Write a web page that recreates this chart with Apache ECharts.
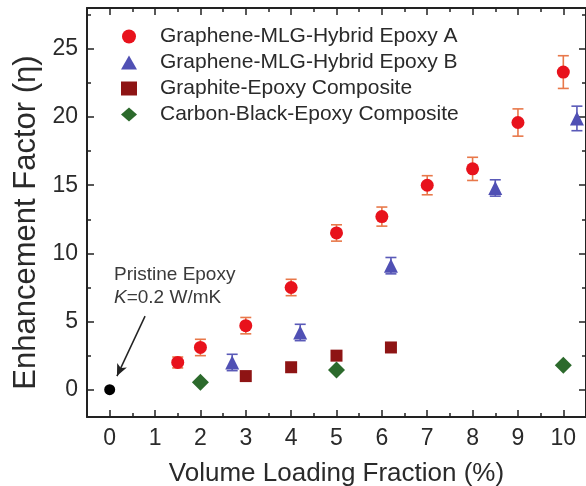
<!DOCTYPE html>
<html><head><meta charset="utf-8">
<script src="https://cdn.jsdelivr.net/npm/echarts@6/dist/echarts.min.js"></script>
<style>html,body{margin:0;padding:0;background:#fff}#c{width:586px;height:486px}</style>
</head><body><div id="c"></div>
<script>
// ---- data ----
const hybridA_x = [1.5, 2, 3, 4, 5, 6, 7, 8, 9, 10];
const hybridA_y = [2.0, 3.1, 4.7, 7.5, 11.5, 12.7, 15.0, 16.2, 19.6, 23.3];
const hybridA_err = [0.4, 0.6, 0.6, 0.6, 0.6, 0.7, 0.7, 0.85, 1.0, 1.2];
const hybridB_x = [2.7, 4.2, 6.2, 8.5, 10.3];
const hybridB_y = [2.0, 4.2, 9.1, 14.8, 19.9];
const hybridB_err = [0.6, 0.6, 0.6, 0.6, 0.9];
const graphite_x = [3, 4, 5, 6.2];
const graphite_y = [1.0, 1.65, 2.5, 3.1];
const carbon_x = [2, 5, 10];
const carbon_y = [0.55, 1.45, 1.8];
const pristine_x = [0];
const pristine_y = [0];
const xMajor = [0,1,2,3,4,5,6,7,8,9,10];
const xMinor = [0.5,1.5,2.5,3.5,4.5,5.5,6.5,7.5,8.5,9.5];
const yMajor = [0,5,10,15,20,25];
const yMinor = [2.5,7.5,12.5,17.5,22.5,27.5];
const names = ['Graphene-MLG-Hybrid Epoxy A','Graphene-MLG-Hybrid Epoxy B','Graphite-Epoxy Composite','Carbon-Black-Epoxy Composite'];

const zip = (xs, ys) => xs.map((x, i) => [x, ys[i]]);
const zipErr = (xs, ys, es) => xs.map((x, i) => [x, ys[i] - es[i], ys[i] + es[i]]);

const axisCol = '#222';
const txtCol = '#2a2a2a';
const font = 'Liberation Sans, Arial, sans-serif';

function xAx(pos, major, line, labels) {
  return {
    type: 'value', position: pos, min: -0.5, max: 10.5,
    axisLine: { show: line, onZero: false, lineStyle: { color: axisCol, width: 2 } },
    axisTick: { show: true, inside: true, length: major ? 7 : 4, customValues: major ? xMajor : xMinor, lineStyle: { color: axisCol, width: 1.5 } },
    axisLabel: { show: labels, customValues: xMajor, fontSize: 23, color: txtCol, fontFamily: font, margin: 10 },
    splitLine: { show: false },
    name: labels ? 'Volume Loading Fraction (%)' : '',
    nameLocation: 'middle', nameGap: 44,
    nameTextStyle: { fontSize: 26, color: txtCol, fontFamily: font }
  };
}
function yAx(pos, major, line, labels) {
  return {
    type: 'value', position: pos, min: -2, max: 28,
    axisLine: { show: line, onZero: false, lineStyle: { color: axisCol, width: 2 } },
    axisTick: { show: true, inside: true, length: major ? 7 : 4, customValues: major ? yMajor : yMinor, lineStyle: { color: axisCol, width: 1.5 } },
    axisLabel: { show: labels, customValues: yMajor, fontSize: 23, color: txtCol, fontFamily: font, margin: 9 },
    splitLine: { show: false },
    name: labels ? 'Enhancement Factor (\u03b7)' : '',
    nameLocation: 'middle', nameGap: 44,
    nameTextStyle: { fontSize: 31, color: txtCol, fontFamily: font, padding: [0, 20, 0, 0] }
  };
}

function errSeries(data, color) {
  return {
    type: 'custom', xAxisIndex: 0, yAxisIndex: 0, z: 2, silent: true,
    data: data,
    renderItem: function (params, api) {
      const x = api.value(0);
      const lo = api.coord([x, api.value(1)]);
      const hi = api.coord([x, api.value(2)]);
      const hw = 5.5;
      const st = { stroke: color, lineWidth: 1.6 };
      return { type: 'group', children: [
        { type: 'line', shape: { x1: lo[0], y1: lo[1], x2: hi[0], y2: hi[1] }, style: st },
        { type: 'line', shape: { x1: lo[0]-hw, y1: lo[1], x2: lo[0]+hw, y2: lo[1] }, style: st },
        { type: 'line', shape: { x1: hi[0]-hw, y1: hi[1], x2: hi[0]+hw, y2: hi[1] }, style: st }
      ]};
    }
  };
}

const chart = echarts.init(document.getElementById('c'), null, { renderer: 'canvas' });
chart.setOption({
  animation: false,
  backgroundColor: '#fff',
  grid: { left: 87, top: 8, width: 499, height: 409, containLabel: false, outerBoundsMode: 'none' },
  xAxis: [xAx('bottom', true, true, true), xAx('bottom', false, false, false), xAx('top', true, true, false), xAx('top', false, false, false)],
  yAxis: [yAx('left', true, true, true), yAx('left', false, false, false), yAx('right', true, true, false), yAx('right', false, false, false)],
  legend: {
    data: names, orient: 'vertical', left: 121, top: 26, padding: 0,
    itemWidth: 16, itemHeight: 14, itemGap: 5,
    textStyle: { fontSize: 21, lineHeight: 21, color: txtCol, fontFamily: font, padding: [0, 0, 0, 18] },
    selectedMode: false
  },
  series: [
    errSeries(zipErr(hybridA_x, hybridA_y, hybridA_err), '#e8784a'),
    errSeries(zipErr(hybridB_x, hybridB_y, hybridB_err), '#5a5ab8'),
    { name: names[0], type: 'scatter', symbol: 'circle', symbolSize: 13, data: zip(hybridA_x, hybridA_y), itemStyle: { color: '#e8121c', opacity: 1 }, z: 3 },
    { name: names[1], type: 'scatter', symbol: 'triangle', symbolSize: 14, data: zip(hybridB_x, hybridB_y), itemStyle: { color: '#5050b4', opacity: 1 }, z: 3 },
    { name: names[2], type: 'scatter', symbol: 'rect', symbolSize: 12, data: zip(graphite_x, graphite_y), itemStyle: { color: '#8e1414', opacity: 1 }, z: 3 },
    { name: names[3], type: 'scatter', symbol: 'diamond', symbolSize: [17, 17], data: zip(carbon_x, carbon_y), itemStyle: { color: '#2c6a2c', opacity: 1 }, z: 3 },
    { name: 'Pristine', type: 'scatter', symbol: 'circle', symbolSize: 11, data: zip(pristine_x, pristine_y), itemStyle: { color: '#000', opacity: 1 }, z: 3,
      markLine: { silent: true, symbol: ['none', 'arrow'], symbolSize: [8, 12],
        lineStyle: { color: '#222', width: 1.5, type: 'solid' }, label: { show: false },
        data: [[{ coord: [0.78, 5.4] }, { coord: [0.16, 1.0] }]] } }
  ],
  graphic: [
    { type: 'text', left: 114, top: 265, style: { text: 'Pristine Epoxy', fontSize: 19, fill: '#3a3a3a', fontFamily: font } },
    { type: 'text', left: 114, top: 288, style: { rich: { i: { fontStyle: 'italic', fontSize: 19, fill: '#3a3a3a', fontFamily: font }, n: { fontSize: 19, fill: '#3a3a3a', fontFamily: font } }, text: '{i|K}{n|=0.2 W/mK}' } }
  ]
});
</script></body></html>
